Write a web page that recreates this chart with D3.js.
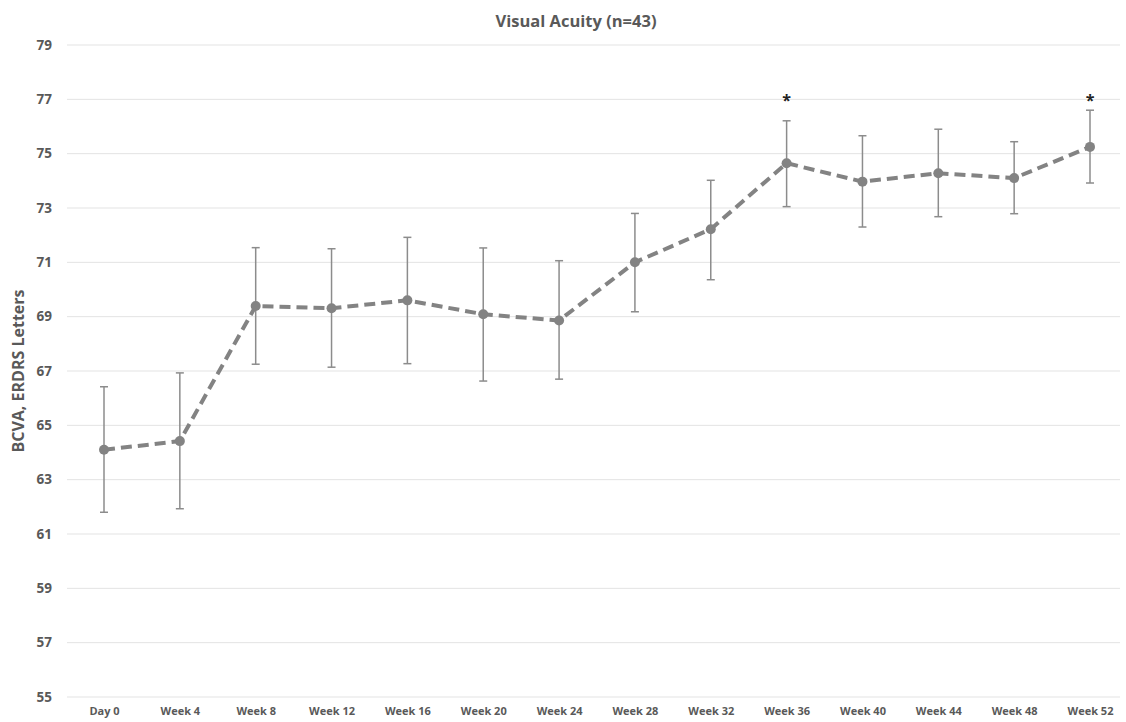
<!DOCTYPE html>
<html>
<head>
<meta charset="utf-8">
<script src="https://cdn.jsdelivr.net/npm/d3@7"></script>
<style>
  body { margin: 0; background: #fff; }
  text { font-family: "Open Sans", "Liberation Sans", sans-serif; }
</style>
</head>
<body>
<div id="chart"></div>
<script>
const categories = ['Day 0', 'Week 4', 'Week 8', 'Week 12', 'Week 16', 'Week 20', 'Week 24',
  'Week 28', 'Week 32', 'Week 36', 'Week 40', 'Week 44', 'Week 48', 'Week 52'];
const means = [64.1, 64.42, 69.39, 69.31, 69.6, 69.09, 68.86, 71.0, 72.22, 74.65, 73.97, 74.28, 74.1, 75.25];
const upper = [66.42, 66.93, 71.54, 71.5, 71.92, 71.53, 71.06, 72.8, 74.02, 76.21, 75.66, 75.9, 75.44, 76.6];
const lower = [61.8, 61.93, 67.25, 67.14, 67.27, 66.63, 66.7, 69.18, 70.36, 73.05, 72.3, 72.68, 72.79, 73.92];
const starred = ['Week 36', 'Week 52'];
const yTicks = d3.range(55, 80, 2);

const width = 1126;
const height = 722;

const svg = d3.select('#chart')
  .append('svg')
  .attr('width', width)
  .attr('height', height);

// Scales
const x = d3.scalePoint()
  .domain(categories)
  .range([104, 1090]);

const y = d3.scaleLinear()
  .domain([55, 79])
  .range([697, 45]);

// Gridlines
svg.selectAll('.grid')
  .data(yTicks)
  .enter()
  .append('line')
  .attr('x1', 67)
  .attr('x2', 1120)
  .attr('y1', (d) => y(d))
  .attr('y2', (d) => y(d))
  .attr('stroke', '#e3e3e3')
  .attr('stroke-width', 1);

// Y axis labels
const yAxis = d3.axisLeft(y).tickValues(yTicks).tickSize(0).tickPadding(0);
const yg = svg.append('g')
  .attr('transform', 'translate(52,0)')
  .call(yAxis);
yg.select('.domain').remove();
yg.selectAll('text')
  .attr('fill', '#595959')
  .attr('font-size', 13.5)
  .attr('font-weight', 'bold');

// X axis labels
const xAxis = d3.axisBottom(x).tickSize(0).tickPadding(0);
const xg = svg.append('g')
  .attr('transform', 'translate(0,707)')
  .call(xAxis);
xg.select('.domain').remove();
xg.selectAll('text')
  .attr('fill', '#595959')
  .attr('font-size', 11)
  .attr('font-weight', 'bold');

// Error bars
const rows = categories.map((c, i) => ({ c, m: means[i], hi: upper[i], lo: lower[i] }));
const eb = svg.append('g').attr('stroke', '#8c8c8c').attr('stroke-width', 1.5);
eb.selectAll('.err')
  .data(rows)
  .enter()
  .append('line')
  .attr('x1', (d) => x(d.c))
  .attr('x2', (d) => x(d.c))
  .attr('y1', (d) => y(d.hi))
  .attr('y2', (d) => y(d.lo));
['hi', 'lo'].forEach((k) => {
  eb.selectAll('.cap-' + k)
    .data(rows)
    .enter()
    .append('line')
    .attr('x1', (d) => x(d.c) - 4)
    .attr('x2', (d) => x(d.c) + 4)
    .attr('y1', (d) => y(d[k]))
    .attr('y2', (d) => y(d[k]));
});

// Dashed line
const line = d3.line()
  .x((d) => x(d.c))
  .y((d) => y(d.m));
svg.append('path')
  .datum(rows)
  .attr('d', line)
  .attr('fill', 'none')
  .attr('stroke', '#838383')
  .attr('stroke-width', 4)
  .attr('stroke-dasharray', '11,6');

// Markers
svg.selectAll('.pt')
  .data(rows)
  .enter()
  .append('circle')
  .attr('cx', (d) => x(d.c))
  .attr('cy', (d) => y(d.m))
  .attr('r', 5)
  .attr('fill', '#838383');

// Significance asterisks
svg.selectAll('.star')
  .data(rows.filter((d) => starred.includes(d.c)))
  .enter()
  .append('text')
  .attr('x', (d) => x(d.c))
  .attr('y', 106)
  .attr('text-anchor', 'middle')
  .attr('font-size', 16)
  .attr('font-weight', 'bold')
  .attr('fill', '#222')
  .text('*');

// Title
svg.append('text')
  .attr('x', 576)
  .attr('y', 27)
  .attr('text-anchor', 'middle')
  .attr('font-size', 16.5)
  .attr('font-weight', 'bold')
  .attr('fill', '#595959')
  .text('Visual Acuity (n=43)');

// Y axis title
svg.append('text')
  .attr('transform', 'translate(24,371) rotate(-90)')
  .attr('text-anchor', 'middle')
  .attr('font-size', 16)
  .attr('font-weight', 'bold')
  .attr('fill', '#595959')
  .text('BCVA, ERDRS Letters');
</script>
</body>
</html>
